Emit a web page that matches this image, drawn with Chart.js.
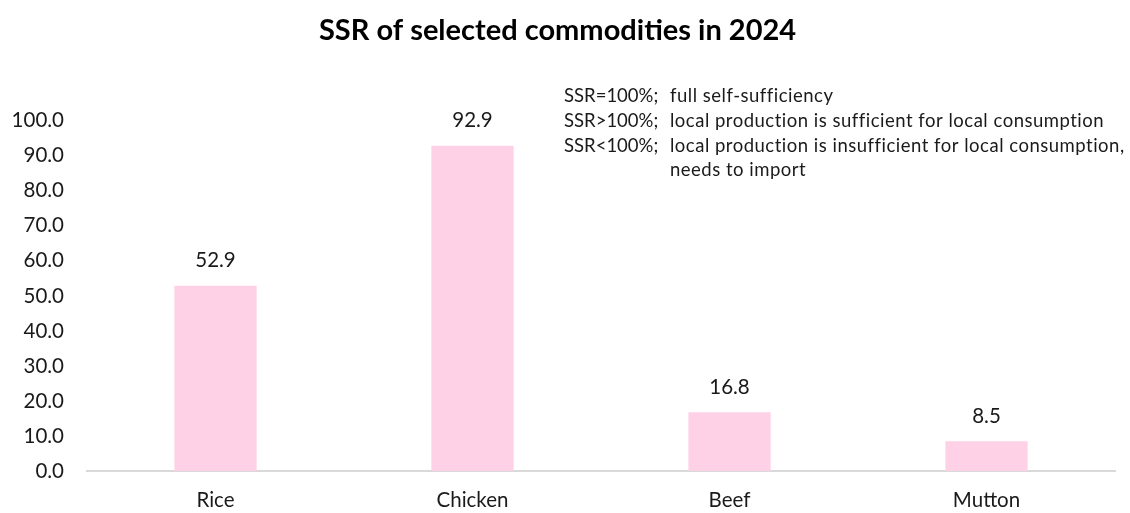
<!DOCTYPE html>
<html>
<head>
<meta charset="utf-8">
<title>SSR of selected commodities in 2024</title>
<script src="https://cdn.jsdelivr.net/npm/chart.js@4/dist/chart.umd.min.js"></script>
<style>
    html, body { margin: 0; padding: 0; background: #fff; }
    #wrap { width: 1130px; height: 513px; }
</style>
</head>
<body>
<div id="wrap"><canvas id="ssrChart"></canvas></div>
<script>
// ===============================
// DATA
// ===============================
const commodities = ["Rice", "Chicken", "Beef", "Mutton"];
const ssrValues = [52.9, 92.9, 16.8, 8.5];
const yTicks = [0, 10, 20, 30, 40, 50, 60, 70, 80, 90, 100];
const noteLabels = ["SSR=100%;", "SSR>100%;", "SSR<100%;", ""];
const noteTexts = [
    "full self-sufficiency",
    "local production is sufficient for local consumption",
    "local production is insufficient for local consumption,",
    "needs to import"
];

const FONT = "Lato, 'Open Sans', sans-serif";
const TEXT_COLOR = "#1a1a1a";

// value labels above each bar
const barValues = {
    id: "barValues",
    afterDatasetsDraw(chart) {
        const ctx = chart.ctx;
        const meta = chart.getDatasetMeta(0);
        ctx.save();
        ctx.font = "20.5px " + FONT;
        ctx.fillStyle = TEXT_COLOR;
        ctx.textAlign = "center";
        ctx.textBaseline = "middle";
        meta.data.forEach((bar, i) => {
            ctx.fillText(ssrValues[i].toFixed(1), bar.x, bar.y - 25);
        });
        ctx.restore();
    }
};

// explanatory note in the upper right
const ssrNote = {
    id: "ssrNote",
    afterDraw(chart) {
        const ctx = chart.ctx;
        ctx.save();
        ctx.font = "18.5px " + FONT;
        ctx.fillStyle = TEXT_COLOR;
        ctx.textBaseline = "middle";
        noteTexts.forEach((txt, i) => {
            const y = 96 + i * 24.8;
            if (noteLabels[i]) ctx.fillText(noteLabels[i], 564, y);
            ctx.letterSpacing = "0.5px";
            ctx.fillText(txt, 670, y);
            ctx.letterSpacing = "0px";
        });
        ctx.restore();
    }
};

new Chart(document.getElementById("ssrChart"), {
    type: "bar",
    data: {
        labels: commodities,
        datasets: [{
            data: ssrValues,
            backgroundColor: "rgb(255, 209, 230)",
            borderWidth: 0,
            categoryPercentage: 1,
            barPercentage: 0.32
        }]
    },
    options: {
        responsive: true,
        maintainAspectRatio: false,
        animation: false,
        layout: { padding: { top: 0, right: 15, bottom: 0, left: 0 } },
        plugins: {
            legend: { display: false },
            tooltip: { enabled: false },
            title: {
                display: true,
                text: "SSR of selected commodities in 2024",
                color: "#000",
                font: { family: FONT, size: 29, weight: "bold", lineHeight: 1.2 },
                padding: { top: 13, bottom: 73 }
            }
        },
        scales: {
            x: {
                grid: { display: false, drawTicks: false },
                border: { display: true, color: "#d9d9d9", width: 2 },
                ticks: { color: TEXT_COLOR, font: { family: FONT, size: 20.5 }, padding: 17 },
                afterFit(scale) { scale.height = 42; }
            },
            y: {
                min: 0,
                max: 100,
                grid: { display: false, drawTicks: false },
                border: { display: false },
                afterBuildTicks(scale) { scale.ticks = yTicks.map(v => ({ value: v })); },
                ticks: {
                    color: TEXT_COLOR,
                    font: { family: FONT, size: 20.5 },
                    padding: 23,
                    callback: v => Number(v).toFixed(1)
                },
                afterFit(scale) { scale.width = 87; }
            }
        }
    },
    plugins: [barValues, ssrNote]
});
</script>
</body>
</html>
